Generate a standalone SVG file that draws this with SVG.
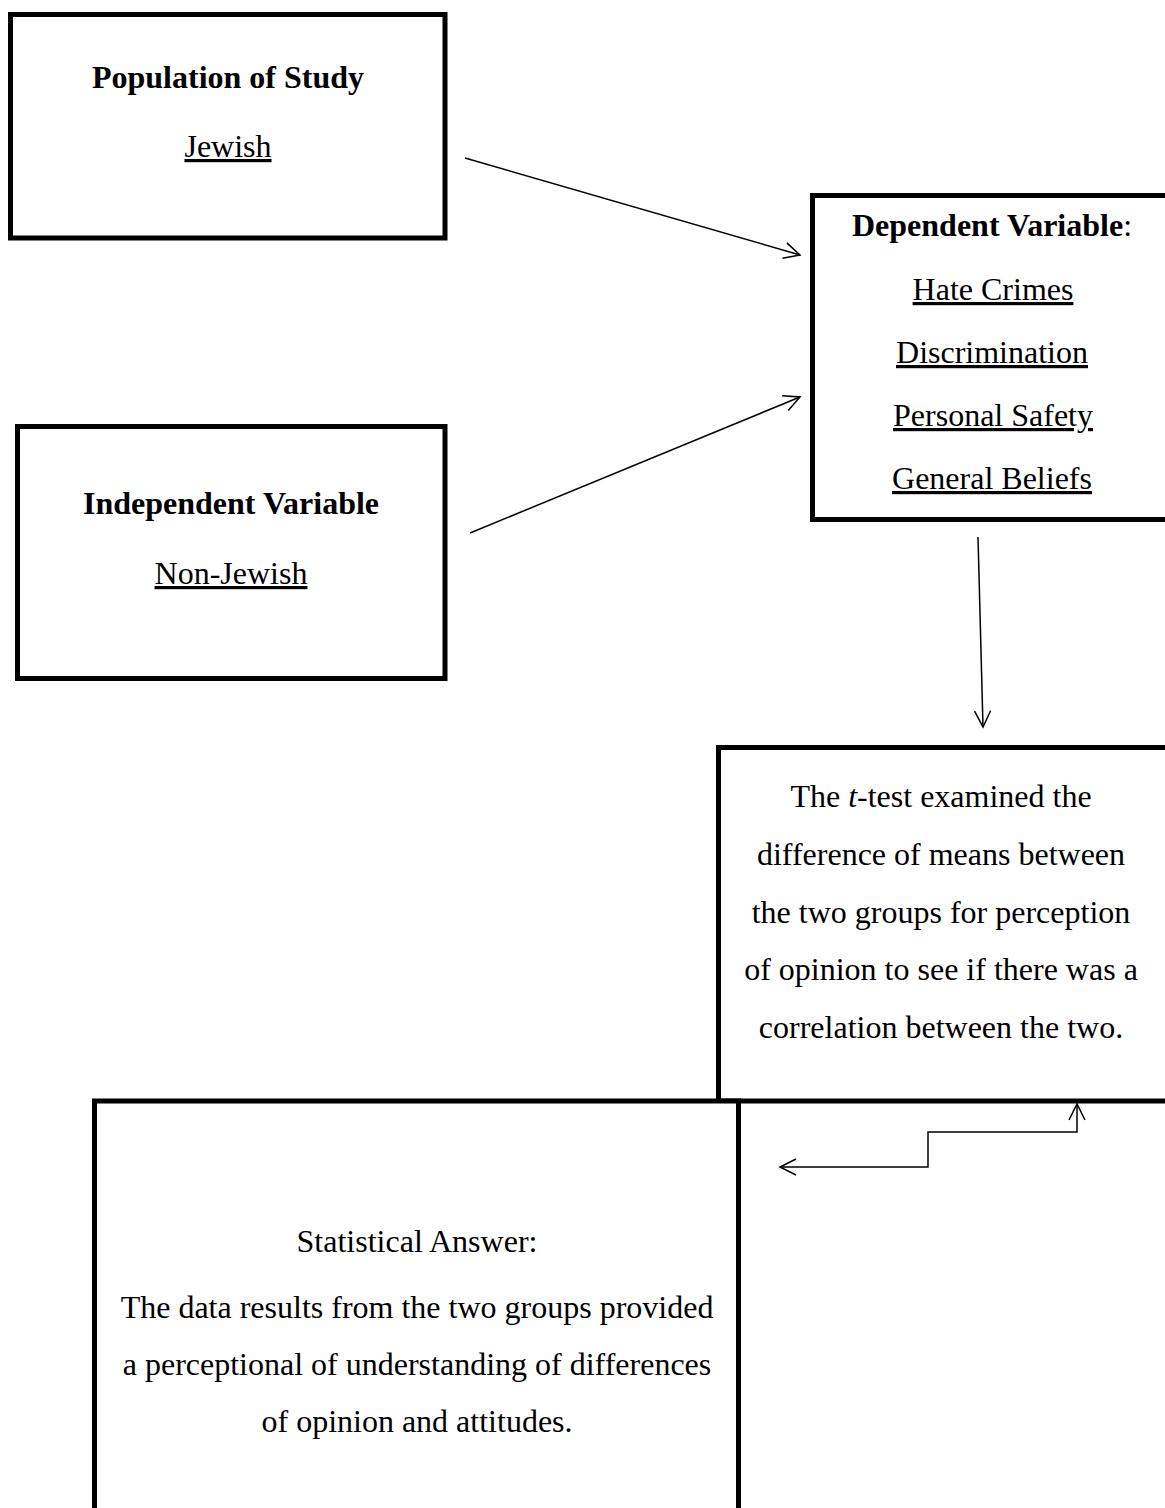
<svg xmlns="http://www.w3.org/2000/svg" width="1165" height="1508" viewBox="0 0 1165 1508">
<style>
.box{fill:#fff;stroke:#000;stroke-width:5}
text{font-family:"Liberation Serif","Times New Roman",serif;font-size:32px;fill:#000;text-anchor:middle}
.b{font-weight:bold}
.u{text-decoration:underline}
.con{fill:none;stroke:#000;stroke-width:1.5}
</style>
<defs>
<marker id="ah" viewBox="0 0 20 20" refX="18" refY="10" markerWidth="20" markerHeight="20" markerUnits="userSpaceOnUse" orient="auto-start-reverse">
<path d="M2,2 L18,10 L2,18" fill="none" stroke="#000" stroke-width="1.5"/>
</marker>
</defs>
<rect width="1165" height="1508" fill="#fff"/>
<g id="population">
<rect class="box" x="10.5" y="14.5" width="434.5" height="223.5"/>
<text class="b" x="228" y="88">Population of Study</text>
<text class="u" x="228" y="157">Jewish</text>
</g>
<g id="independent">
<rect class="box" x="17.5" y="426.5" width="427.5" height="252"/>
<text class="b" x="231" y="514">Independent Variable</text>
<text class="u" x="231" y="584">Non-Jewish</text>
</g>
<g id="dependent">
<rect class="box" x="812.5" y="195.5" width="360" height="324"/>
<text x="992" y="236"><tspan class="b">Dependent Variable</tspan>:</text>
<text class="u" x="993" y="300">Hate Crimes</text>
<text class="u" x="992" y="363">Discrimination</text>
<text class="u" x="993" y="426">Personal Safety</text>
<text class="u" x="992" y="489">General Beliefs</text>
</g>
<g id="ttest">
<rect class="box" x="718.5" y="747.5" width="454" height="353.5"/>
<text x="941" y="807">The <tspan font-style="italic">t</tspan>-test examined the</text>
<text x="941" y="865">difference of means between</text>
<text x="941" y="923">the two groups for perception</text>
<text x="941" y="980">of opinion to see if there was a</text>
<text x="941" y="1038">correlation between the two.</text>
</g>
<g id="statistical">
<rect class="box" x="94.5" y="1101" width="644" height="420"/>
<text x="417" y="1252">Statistical Answer:</text>
<text x="417" y="1318">The data results from the two groups provided</text>
<text x="417" y="1375">a perceptional of understanding of differences</text>
<text x="417" y="1432">of opinion and attitudes.</text>
</g>
<g id="connectors">
<line class="con" x1="465" y1="158" x2="800" y2="255" marker-end="url(#ah)"/>
<line class="con" x1="470" y1="533" x2="800" y2="397" marker-end="url(#ah)"/>
<line class="con" x1="978" y1="537" x2="983" y2="727" marker-end="url(#ah)"/>
<polyline class="con" points="780,1167 928,1167 928,1132 1077,1132 1077,1104" marker-start="url(#ah)" marker-end="url(#ah)"/>
</g>
</svg>
